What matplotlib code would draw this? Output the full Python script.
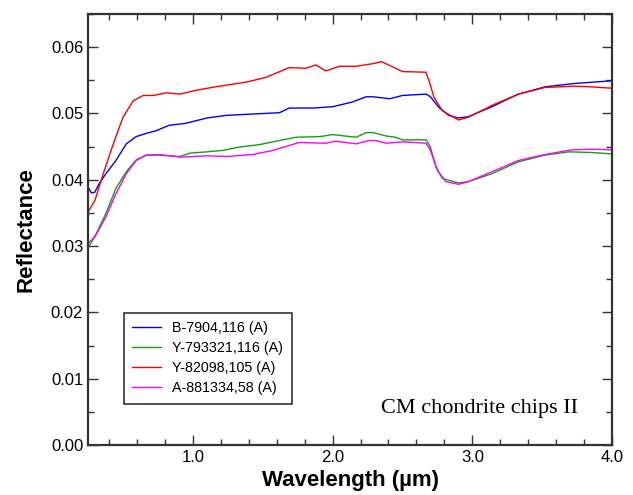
import matplotlib.pyplot as plt
from matplotlib.ticker import MultipleLocator

# Wavelength (um) and reflectance
wl_blue = [0.25, 0.274, 0.298, 0.33, 0.378, 0.45, 0.524, 0.595, 0.67, 0.74, 0.83, 0.95, 1.10, 1.24,
           1.43, 1.62, 1.69, 1.86, 2.00, 2.14, 2.24, 2.29, 2.41, 2.50, 2.67, 2.70, 2.76, 2.83,
           2.90, 2.97, 3.14, 3.33, 3.52, 3.73, 3.99]
r_blue = [0.0389, 0.0380, 0.0381, 0.0394, 0.0409, 0.0429, 0.0454, 0.0465, 0.0470, 0.0474, 0.0482,
          0.0485, 0.0493, 0.0497, 0.0499, 0.0501, 0.0508, 0.0508, 0.0510, 0.0517, 0.0525, 0.0525,
          0.0522, 0.0527, 0.0529, 0.0525, 0.0509, 0.0497, 0.0493, 0.0495, 0.0510, 0.0529, 0.0540,
          0.0545, 0.0549]

wl_green = [0.25, 0.31, 0.378, 0.45, 0.524, 0.595, 0.667, 0.76, 0.907, 0.98, 1.10, 1.21, 1.33,
            1.48, 1.62, 1.74, 1.91, 2.00, 2.17, 2.24, 2.29, 2.38, 2.45, 2.50, 2.67, 2.70, 2.74,
            2.785, 2.90, 2.97, 3.14, 3.33, 3.52, 3.69, 3.85, 3.99]
r_green = [0.0297, 0.0319, 0.0349, 0.0387, 0.0412, 0.0430, 0.0437, 0.0437, 0.0435, 0.0440, 0.0442,
           0.0444, 0.0449, 0.0453, 0.0459, 0.0464, 0.0465, 0.0468, 0.0464, 0.0471, 0.0471, 0.0466,
           0.0464, 0.0460, 0.0460, 0.0449, 0.0419, 0.0402, 0.0395, 0.0397, 0.0409, 0.0427, 0.0437,
           0.0442, 0.0441, 0.0439]

wl_red = [0.25, 0.30, 0.359, 0.431, 0.50, 0.574, 0.645, 0.717, 0.81, 0.907, 1.026, 1.19, 1.38,
          1.52, 1.69, 1.81, 1.88, 1.95, 2.05, 2.17, 2.29, 2.35, 2.43, 2.50, 2.667, 2.69, 2.726,
          2.785, 2.90, 2.97, 3.14, 3.33, 3.52, 3.73, 3.85, 3.99]
r_red = [0.0351, 0.0369, 0.0409, 0.0454, 0.0494, 0.0519, 0.0527, 0.0527, 0.0531, 0.0529, 0.0535,
         0.0541, 0.0547, 0.0554, 0.0569, 0.0568, 0.0573, 0.0564, 0.0571, 0.0571, 0.0575, 0.0578,
         0.0570, 0.0563, 0.0562, 0.0549, 0.0524, 0.0504, 0.0490, 0.0494, 0.0512, 0.0529, 0.0539,
         0.0541, 0.0540, 0.0538]

wl_mag = [0.25, 0.30, 0.378, 0.45, 0.524, 0.595, 0.667, 0.76, 0.907, 1.10, 1.24, 1.43, 1.57, 1.76,
          1.95, 2.02, 2.17, 2.26, 2.31, 2.38, 2.50, 2.67, 2.70, 2.75, 2.81, 2.90, 2.97, 3.14,
          3.33, 3.52, 3.71, 3.85, 3.99]
r_mag = [0.0304, 0.0314, 0.0344, 0.0379, 0.0409, 0.0429, 0.0437, 0.0438, 0.0434, 0.0436, 0.0435,
         0.0438, 0.0444, 0.0456, 0.0455, 0.0458, 0.0454, 0.0459, 0.0459, 0.0455, 0.0457, 0.0455,
         0.0444, 0.0414, 0.0397, 0.0393, 0.0397, 0.0412, 0.0429, 0.0438, 0.0445, 0.0446, 0.0445]

labels = ['B-7904,116 (A)', 'Y-793321,116 (A)', 'Y-82098,105 (A)', 'A-881334,58 (A)']

plt.rcParams['font.family'] = ['Liberation Sans', 'DejaVu Sans']

fig = plt.figure(figsize=(6.33, 4.95), dpi=100)
ax = fig.add_axes([0.139, 0.101, 0.828, 0.871])

ax.plot(wl_blue, r_blue, color='#0000ff', lw=1, label=labels[0])
ax.plot(wl_green, r_green, color='#10a010', lw=1, label=labels[1])
ax.plot(wl_red, r_red, color='#ff0000', lw=1, label=labels[2])
ax.plot(wl_mag, r_mag, color='#ff00ff', lw=1, label=labels[3])

ax.set_xlim(0.25, 4.0)
ax.set_ylim(0, 0.065)
ax.xaxis.set_major_locator(MultipleLocator(1.0))
ax.xaxis.set_minor_locator(MultipleLocator(0.2))
ax.yaxis.set_major_locator(MultipleLocator(0.01))
ax.yaxis.set_minor_locator(MultipleLocator(0.005))
ax.xaxis.set_major_formatter(lambda v, p: f'{v:.1f}')
ax.yaxis.set_major_formatter(lambda v, p: f'{v:.2f}')

ax.tick_params(which='both', direction='in', top=True, right=True, labelsize=12, color='#333333')
ax.tick_params(which='major', length=7, width=1)
ax.tick_params(which='minor', length=4, width=1)
for s in ax.spines.values():
    s.set_linewidth(1.6)
    s.set_color('#333333')

ax.set_xlabel('Wavelength (\u00b5m)', fontsize=16, fontweight='bold', labelpad=4)
ax.set_ylabel('Reflectance', fontsize=16, fontweight='bold', labelpad=10)

leg = ax.legend(loc='lower left', bbox_to_anchor=(0.068, 0.095), fontsize=10.3, frameon=True,
                fancybox=False, edgecolor='black', handlelength=2.0, borderpad=0.6,
                labelspacing=0.42, handletextpad=0.8, borderaxespad=0)
leg.get_frame().set_linewidth(1.2)

ax.text(0.935, 0.085, 'CM chondrite chips II', transform=ax.transAxes, ha='right', va='center',
        fontsize=16, family='Liberation Serif')

fig.savefig('out.png', dpi=100)
